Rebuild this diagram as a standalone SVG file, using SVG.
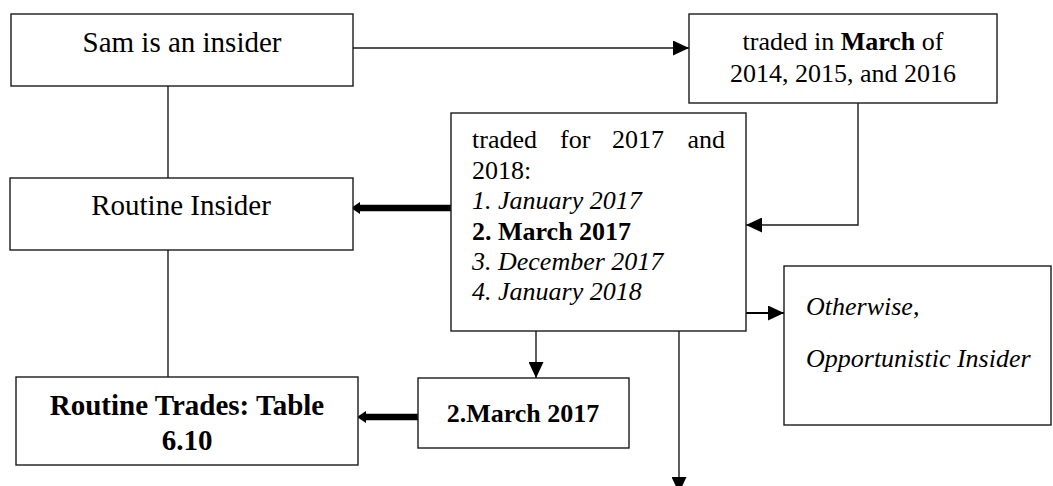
<svg xmlns="http://www.w3.org/2000/svg" width="1053" height="486" viewBox="0 0 1053 486">
  <style>
    .box { fill: #ffffff; stroke: #1a1a1a; stroke-width: 1.4; }
    text { font-family: 'Liberation Serif', 'Tinos', 'Times New Roman', 'DejaVu Serif', serif; fill: #000000; }
    .big { font-size: 29px; }
    .mid { font-size: 26px; }
    .b { font-weight: bold; }
    .i { font-style: italic; }
    .c { text-anchor: middle; }
    .line { fill: none; stroke: #1a1a1a; stroke-width: 1.4; }
    .thick { fill: none; stroke: #000000; stroke-width: 6.5; }
    .med { fill: none; stroke: #000000; stroke-width: 2; }
  </style>
  <defs>
    <marker id="arrow" markerUnits="userSpaceOnUse" markerWidth="16" markerHeight="15" refX="16" refY="7.5" orient="auto">
      <path d="M0,0 L16,7.5 L0,15 Z" fill="#000000"/>
    </marker>
  </defs>

  <!-- connectors -->
  <g id="connectors">
    <line class="line" x1="353" y1="48" x2="689" y2="48" marker-end="url(#arrow)"/>
    <polyline class="line" points="858,103 858,225 746,225" marker-end="url(#arrow)"/>
    <line class="line" x1="168" y1="86" x2="168" y2="178"/>
    <line class="line" x1="168" y1="250" x2="168" y2="377"/>
    <line class="thick" x1="451" y1="208" x2="360" y2="208"/>
    <path d="M360,202 L351,208 L360,214 Z" fill="#000000"/>
    <line class="thick" x1="418" y1="417" x2="366" y2="417"/>
    <path d="M366,411 L357,417 L366,423 Z" fill="#000000"/>
    <line class="line" x1="536" y1="331" x2="536" y2="378" marker-end="url(#arrow)"/>
    <line class="line" x1="679" y1="331" x2="679" y2="493" marker-end="url(#arrow)"/>
    <line class="med" x1="745" y1="313" x2="784" y2="313" marker-end="url(#arrow)"/>
  </g>

  <g id="node-sam">
    <rect class="box" x="11" y="14" width="342" height="72"/>
    <text class="big c" x="182" y="52" font-family="Liberation Serif, serif">Sam is an insider</text>
  </g>

  <g id="node-march">
    <rect class="box" x="689" y="14" width="308" height="89"/>
    <text class="mid c" x="843" y="50">traded in <tspan class="b">March</tspan> of</text>
    <text class="mid c" x="843" y="82">2014, 2015, and 2016</text>
  </g>

  <g id="node-routine-insider">
    <rect class="box" x="10" y="178" width="343" height="72"/>
    <text class="big c" x="181" y="215">Routine Insider</text>
  </g>

  <g id="node-trades">
    <rect class="box" x="451" y="113" width="295" height="218"/>
    <text class="mid" x="472" y="148">traded</text>
    <text class="mid" x="560" y="148">for</text>
    <text class="mid" x="612" y="148">2017</text>
    <text class="mid" x="725" y="148" text-anchor="end">and</text>
    <text class="mid" x="472" y="179">2018:</text>
    <text class="mid i" x="472" y="209">1. January 2017</text>
    <text class="mid b" x="472" y="240">2. March 2017</text>
    <text class="mid i" x="472" y="270">3. December 2017</text>
    <text class="mid i" x="472" y="300">4. January 2018</text>
  </g>

  <g id="node-otherwise">
    <rect class="box" x="784" y="266" width="267" height="159"/>
    <text class="mid i" x="806" y="315">Otherwise,</text>
    <text class="mid i" x="806" y="367">Opportunistic Insider</text>
  </g>

  <g id="node-routine-trades">
    <rect class="box" x="16" y="377" width="342" height="88"/>
    <text class="big b c" x="187" y="415">Routine Trades: Table</text>
    <text class="big b c" x="187" y="450">6.10</text>
  </g>

  <g id="node-march-2017">
    <rect class="box" x="418" y="378" width="211" height="70"/>
    <text class="mid b c" x="523" y="422">2.March 2017</text>
  </g>
</svg>
